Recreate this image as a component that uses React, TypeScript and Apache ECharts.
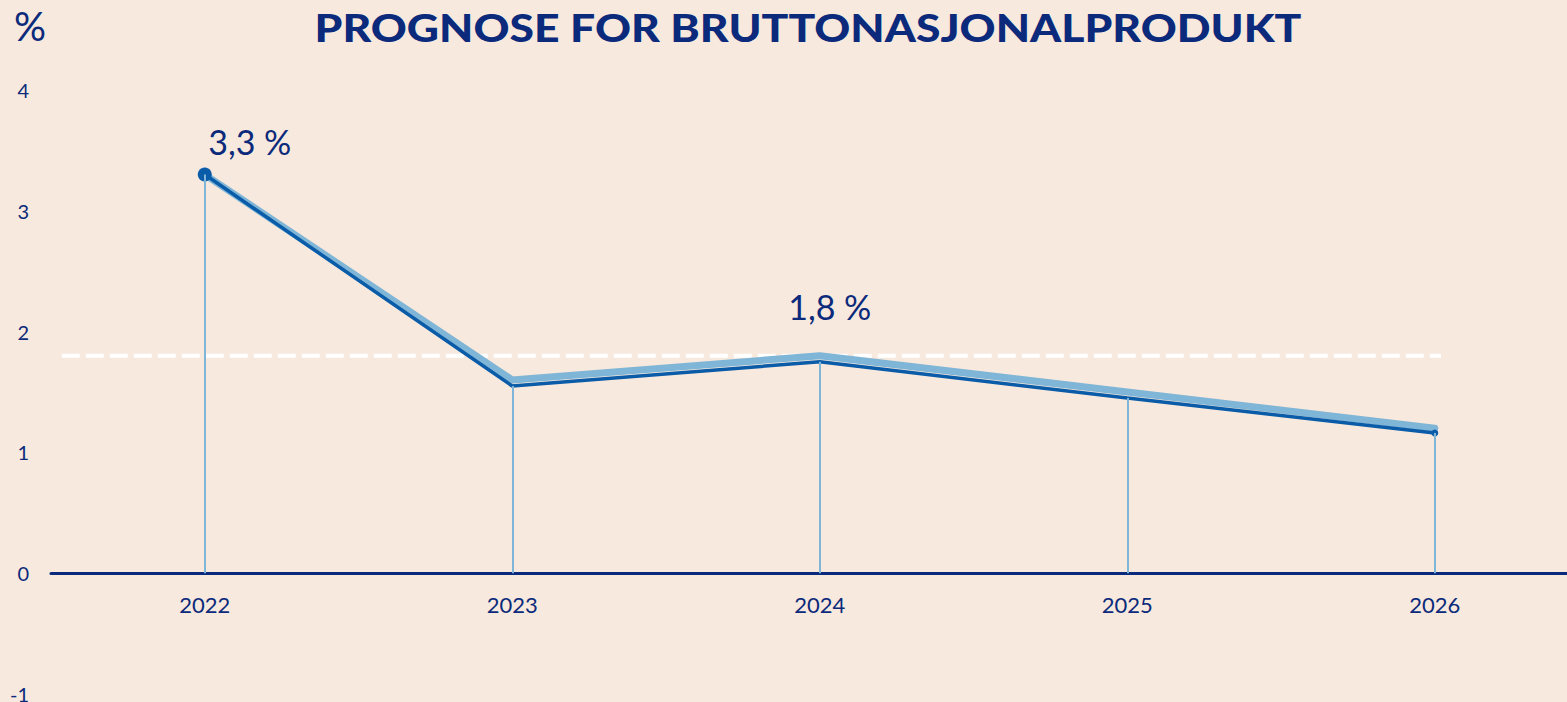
import React, { useEffect, useRef } from "react";
import * as echarts from "echarts";

const years = [2022, 2023, 2024, 2025, 2026];
const forecastLight = [3.3, 1.6, 1.8, 1.5, 1.2];
const forecastDark = [3.3, 1.55, 1.75, 1.45, 1.16];
const yTicks = [-1, 0, 1, 2, 3, 4];
const referenceLevel = 1.8;
const referenceSpan = [2021.535, 2026.02];
const labelledLight = [
  { index: 0, offset: [45, 0], distance: 16 },
  { index: 2, offset: [10, 0], distance: 32 },
];

const NAVY = "#0b2a7b";
const LIGHT = "#7fb5d6";
const DARK = "#0a5ba8";
const BG = "#f7e9dd";
const FONT = "Lato, 'Open Sans', sans-serif";

const fmt = (v: number) => String(v).replace(".", ",") + " %";

export default function App() {
  const ref = useRef<HTMLDivElement>(null);
  useEffect(() => {
    document.body.style.margin = "0";
    const chart = echarts.init(ref.current!, null, { renderer: "svg" });
    const lightData = years.map((y, i) => {
      const lab = labelledLight.find((l) => l.index === i);
      return lab
        ? {
            value: [y, forecastLight[i]],
            label: {
              show: true,
              position: "top",
              distance: lab.distance,
              offset: lab.offset,
              formatter: fmt(forecastLight[i]),
              fontSize: 34,
              color: NAVY,
              fontFamily: FONT,
            },
          }
        : { value: [y, forecastLight[i]] };
    });
    const darkData = years.map((y, i) => ({
      value: [y, forecastDark[i]],
      symbol: "circle",
      symbolSize: i === 0 ? 14 : i === years.length - 1 ? 7 : 0,
    }));
    chart.setOption({
      animation: false,
      backgroundColor: BG,
      textStyle: { fontFamily: FONT },
      graphic: [
        {
          type: "text",
          x: 808,
          y: 8,
          scaleX: 1.17,
          originX: 0,
          style: {
            text: "PROGNOSE FOR BRUTTONASJONALPRODUKT",
            fontSize: 38,
            fontWeight: 900,
            fill: NAVY,
            fontFamily: FONT,
            align: "center",
            verticalAlign: "top",
          },
        },
        {
          type: "text",
          left: 14,
          top: 6,
          style: { text: "%", fontSize: 40, fill: NAVY, fontFamily: FONT },
        },
      ],
      grid: { left: 51, right: 0, top: 90, bottom: 8, containLabel: false, outerBoundsMode: "none" },
      xAxis: {
        type: "value",
        min: 2021.5,
        max: 2026.43,
        position: "bottom",
        offset: -120.75,
        splitLine: { show: false },
        axisTick: { show: false },
        axisLine: { show: true, onZero: false, lineStyle: { color: NAVY, width: 3 } },
        axisLabel: {
          customValues: years,
          formatter: (v: number) => String(v),
          fontSize: 22,
          color: NAVY,
          margin: 20,
          fontFamily: FONT,
        },
      },
      yAxis: {
        type: "value",
        min: -1,
        max: 4,
        interval: 1,
        splitLine: { show: false },
        axisLine: { show: false },
        axisTick: { show: false },
        axisLabel: {
          customValues: yTicks,
          fontSize: 20,
          color: NAVY,
          margin: 22,
          align: "right",
          fontFamily: FONT,
        },
      },
      series: [
        {
          name: "drop",
          type: "line",
          data: [],
          z: 1,
          markLine: {
            silent: true,
            symbol: "none",
            label: { show: false },
            lineStyle: { color: LIGHT, width: 2, type: "solid" },
            data: years.map((y, i) => [
              { coord: [y, forecastDark[i]] },
              { coord: [y, 0] },
            ]),
          },
        },
        {
          name: "Referanse",
          type: "line",
          z: 2,
          symbol: "none",
          data: referenceSpan.map((x) => [x, referenceLevel]),
          lineStyle: { color: "#ffffff", width: 4, type: [18, 6] },
        },
        {
          name: "Forrige",
          type: "line",
          z: 3,
          symbol: "circle",
          symbolSize: 0,
          showSymbol: true,
          data: lightData,
          lineStyle: { color: LIGHT, width: 7, cap: "round", join: "round" },
          itemStyle: { color: LIGHT },
        },
        {
          name: "Prognose",
          type: "line",
          z: 4,
          data: darkData,
          lineStyle: { color: DARK, width: 3.5, cap: "round" },
          itemStyle: { color: DARK },
        },
      ],
    });
    return () => chart.dispose();
  }, []);
  return (
    <div
      ref={ref}
      style={{ position: "fixed", left: 0, top: 0, width: 1567, height: 702 }}
    />
  );
}
